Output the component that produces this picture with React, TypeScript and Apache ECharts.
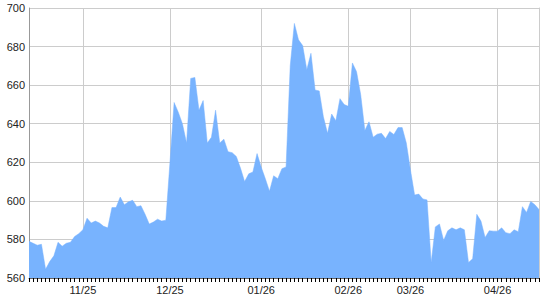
import React, { useEffect, useRef } from "react";
import * as echarts from "echarts";

// Month labels and number of trading days (points) shown in each month
const monthLabels = ["10/25", "11/25", "12/25", "01/26", "02/26", "03/26", "04/26"];
const monthPointCounts = [13, 21, 22, 21, 15, 21, 11];

// Daily values
const valuesOct = [579, 578, 577, 577.5, 564.5, 568.5, 571.5, 578.5, 576.5, 578, 578.5, 581.5, 583];
const valuesNov = [585, 591, 588.5, 589.5, 588.5, 586.8, 586, 596.5, 596.5, 602, 598, 599.5, 600.3, 597, 597.5, 593, 588, 589, 590.5, 589.5, 590];
const valuesDec = [620, 651, 646, 640, 630, 663.5, 664, 647, 652, 630, 633, 647, 630, 632, 625.5, 625, 623, 617, 610, 614, 615, 624.5];
const valuesJan = [617.5, 611.5, 605, 613, 611.5, 616.7, 617.6, 670, 692, 683.5, 680.5, 668, 676.5, 657.5, 657, 643.6, 635, 645, 641.5, 653, 650];
const valuesFeb = [649, 671.5, 667, 655, 636.5, 641, 633, 634.6, 635, 632.3, 636, 634.4, 638, 638, 630];
const valuesMar = [616, 603, 603.5, 601, 600.5, 568, 586.5, 588, 579.5, 584.5, 586, 585, 586, 585, 568, 570, 593, 589.5, 581, 584.5, 584.3];
const valuesApr = [584.3, 586, 583.5, 583, 585, 584, 597, 594, 599.7, 598, 595.5];

const yMin = 560;
const yMax = 700;
const yStep = 20;

const values = [...valuesOct, ...valuesNov, ...valuesDec, ...valuesJan, ...valuesFeb, ...valuesMar, ...valuesApr];

const categories: string[] = [];
const monthStartIdx = new Set<number>();
monthLabels.forEach((m, mi) => {
  for (let k = 0; k < monthPointCounts[mi]; k++) {
    if (k === 0 && mi > 0) monthStartIdx.add(categories.length);
    categories.push(`${m}#${k}`);
  }
});

export default function App() {
  const ref = useRef<HTMLDivElement>(null);
  useEffect(() => {
    if (!ref.current) return;
    const chart = echarts.init(ref.current, undefined, { renderer: "svg" });
    const showAt = (idx: number) => monthStartIdx.has(idx);
    chart.setOption({
      animation: false,
      backgroundColor: "#ffffff",
      grid: { left: 29, right: 1, top: 8, bottom: 22, containLabel: false },
      xAxis: {
        type: "category",
        data: categories,
        boundaryGap: false,
        axisLine: { show: true, lineStyle: { color: "#666666", width: 1 } },
        axisTick: { show: true, interval: 0, length: 4, lineStyle: { color: "#000000", width: 1 } },
        axisLabel: {
          interval: showAt,
          formatter: (v: string) => v.split("#")[0],
          color: "#222222",
          fontFamily: "Liberation Sans, Arial, sans-serif",
          fontSize: 11,
          margin: 6,
        },
        splitLine: { show: true, interval: showAt, lineStyle: { color: "#cccccc", width: 1 } },
      },
      yAxis: [
        {
          type: "value",
          min: yMin,
          max: yMax,
          interval: yStep,
          axisLine: { show: true, lineStyle: { color: "#999999", width: 1 } },
          axisTick: { show: false },
          axisLabel: {
            color: "#222222",
            fontFamily: "Liberation Sans, Arial, sans-serif",
            fontSize: 11,
            margin: 4,
          },
          splitLine: { show: true, lineStyle: { color: "#cccccc", width: 1 } },
        },
        {
          type: "value",
          position: "right",
          min: yMin,
          max: yMax,
          interval: yStep,
          axisLine: { show: true, lineStyle: { color: "#cccccc", width: 1 } },
          axisTick: { show: false },
          axisLabel: { show: false },
          splitLine: { show: false },
        },
      ],
      series: [
        {
          type: "line",
          data: values,
          yAxisIndex: 0,
          showSymbol: false,
          symbol: "none",
          lineStyle: { width: 0.5, color: "#78b3fe" },
          areaStyle: { color: "#78b3fe", opacity: 1 },
          z: 1,
        },
      ],
    });
    return () => chart.dispose();
  }, []);
  return (
    <div
      ref={ref}
      style={{ position: "absolute", left: 0, top: 0, width: 540, height: 300 }}
    />
  );
}
